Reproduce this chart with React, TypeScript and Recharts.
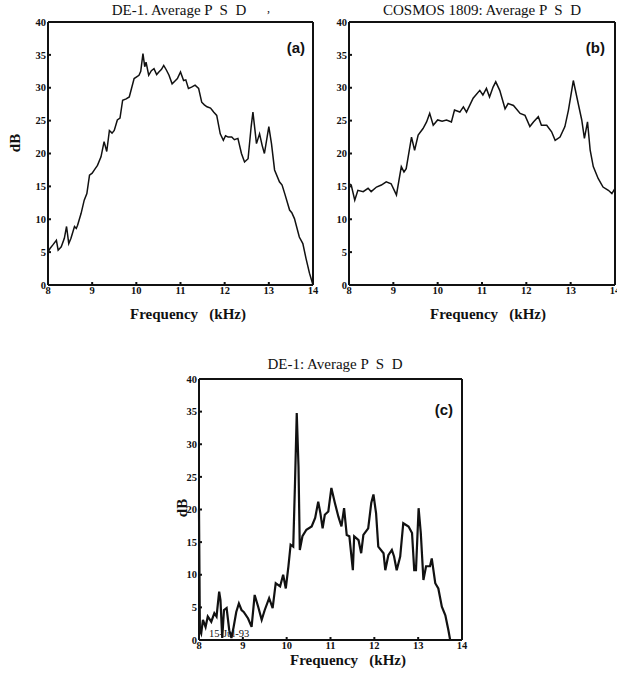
import { Line, LineChart, XAxis, YAxis } from 'recharts';

const FREQ_TICKS = [8, 9, 10, 11, 12, 13, 14];
const DB_TICKS = [0, 5, 10, 15, 20, 25, 30, 35, 40];

// (a) DE-1 average PSD
const freqA = [8.0, 8.05, 8.11, 8.19, 8.23, 8.3, 8.37, 8.42, 8.47, 8.52, 8.6, 8.64, 8.67, 8.75, 8.82, 8.88, 8.94, 9.0, 9.05, 9.12, 9.2, 9.27, 9.33, 9.39, 9.45, 9.5, 9.57, 9.63, 9.69, 9.77, 9.84, 9.95, 10.06, 10.1, 10.15, 10.19, 10.22, 10.28, 10.34, 10.4, 10.46, 10.51, 10.57, 10.62, 10.68, 10.74, 10.81, 10.87, 10.93, 11.0, 11.07, 11.12, 11.18, 11.25, 11.33, 11.41, 11.48, 11.54, 11.6, 11.68, 11.75, 11.82, 11.9, 11.97, 12.02, 12.08, 12.16, 12.22, 12.3, 12.38, 12.45, 12.53, 12.6, 12.64, 12.72, 12.79, 12.85, 12.9, 13.0, 13.06, 13.13, 13.24, 13.3, 13.36, 13.47, 13.52, 13.58, 13.69, 13.77, 13.84, 13.92, 14.0];
const dbA = [5.0, 5.6, 6.1, 6.8, 5.3, 5.8, 7.1, 8.9, 6.3, 7.1, 8.9, 8.6, 9.1, 10.9, 12.9, 13.9, 16.7, 17.0, 17.5, 18.2, 19.5, 21.8, 20.3, 23.5, 23.1, 23.5, 25.1, 25.4, 28.1, 28.3, 28.6, 31.4, 31.9, 32.5, 35.2, 33.2, 33.9, 31.9, 32.6, 32.9, 32.0, 32.4, 32.8, 33.4, 32.7, 31.9, 30.6, 31.0, 31.4, 32.4, 31.1, 31.2, 29.9, 30.1, 30.4, 29.9, 27.8, 27.4, 27.1, 26.9, 26.3, 25.8, 23.0, 22.0, 22.7, 22.5, 22.5, 22.1, 22.3, 20.0, 18.7, 19.2, 24.1, 26.3, 21.5, 23.0, 21.2, 20.0, 24.1, 21.5, 17.5, 15.7, 15.2, 13.9, 11.4, 11.0, 10.1, 7.3, 6.3, 4.1, 1.8, 0];

// (b) COSMOS 1809 average PSD
const freqB = [8.0, 8.05, 8.13, 8.2, 8.32, 8.43, 8.5, 8.62, 8.73, 8.84, 8.95, 9.07, 9.18, 9.24, 9.29, 9.41, 9.48, 9.56, 9.67, 9.75, 9.82, 9.9, 10.0, 10.1, 10.2, 10.31, 10.38, 10.5, 10.58, 10.65, 10.8, 10.95, 11.02, 11.1, 11.17, 11.25, 11.31, 11.4, 11.52, 11.59, 11.71, 11.86, 11.97, 12.08, 12.16, 12.27, 12.34, 12.46, 12.57, 12.65, 12.76, 12.87, 12.95, 13.06, 13.17, 13.25, 13.31, 13.38, 13.44, 13.51, 13.62, 13.73, 13.85, 13.93, 14.0];
const dbB = [15.4, 15.2, 12.9, 14.4, 14.2, 14.7, 14.2, 14.9, 15.2, 15.7, 15.4, 13.7, 18.0, 17.2, 17.7, 22.5, 20.5, 22.8, 23.8, 24.8, 26.1, 24.3, 25.1, 24.9, 25.1, 24.8, 26.6, 26.3, 27.1, 26.3, 28.4, 29.6, 28.9, 29.9, 28.6, 30.1, 30.9, 29.6, 26.8, 27.6, 27.3, 26.1, 25.8, 24.1, 24.8, 25.6, 24.3, 24.3, 23.3, 22.0, 22.5, 24.1, 26.6, 31.1, 27.6, 25.1, 22.3, 24.8, 20.5, 18.0, 16.2, 14.9, 14.4, 13.9, 14.7];

// (c) DE-1 average PSD, 15-Jul-93
const freqC = [8.0, 8.02, 8.05, 8.09, 8.15, 8.2, 8.28, 8.35, 8.4, 8.46, 8.49, 8.53, 8.57, 8.63, 8.69, 8.74, 8.79, 8.85, 8.91, 8.97, 9.02, 9.12, 9.2, 9.27, 9.35, 9.43, 9.5, 9.6, 9.68, 9.75, 9.85, 9.92, 9.98, 10.04, 10.09, 10.15, 10.19, 10.23, 10.27, 10.3, 10.36, 10.45, 10.57, 10.65, 10.72, 10.77, 10.82, 10.87, 10.95, 11.02, 11.1, 11.18, 11.25, 11.31, 11.37, 11.43, 11.51, 11.54, 11.64, 11.7, 11.75, 11.86, 11.93, 11.98, 12.04, 12.09, 12.21, 12.25, 12.32, 12.4, 12.45, 12.51, 12.59, 12.66, 12.78, 12.86, 12.91, 12.95, 13.01, 13.06, 13.12, 13.18, 13.27, 13.31, 13.39, 13.46, 13.54, 13.62, 13.69, 13.73];
const dbC = [20.0, 1.5, 1.0, 3.1, 2.0, 3.6, 2.8, 4.1, 3.6, 7.4, 6.1, 0.3, 4.6, 4.9, 1.5, 0.3, 2.0, 4.3, 5.6, 4.6, 4.3, 3.3, 2.0, 6.9, 5.1, 3.1, 4.6, 6.4, 4.9, 8.7, 8.2, 10.0, 7.9, 11.3, 14.6, 14.3, 24.0, 34.8, 26.6, 13.8, 15.9, 16.9, 17.4, 18.7, 21.2, 19.4, 17.1, 19.2, 19.7, 23.3, 21.0, 18.9, 17.4, 20.2, 16.1, 15.9, 10.7, 15.9, 15.3, 13.3, 16.1, 17.1, 21.0, 22.3, 19.4, 14.3, 13.3, 10.7, 13.0, 13.8, 12.8, 10.7, 12.8, 17.9, 17.4, 16.4, 10.7, 10.7, 20.2, 16.4, 9.2, 11.3, 11.3, 12.5, 8.7, 7.9, 5.1, 3.8, 1.5, 0];

const toRows = (f: number[], d: number[]) => f.map((x, i) => ({ f: x, db: d[i] }));

const INK = '#111';
const tickFont = { fill: INK, fontSize: 10.5, fontFamily: 'Liberation Serif', fontWeight: 'bold' };

type PanelProps = {
  left: number;
  top: number;
  width: number;
  height: number;
  margin: { top: number; right: number; bottom: number; left: number };
  rows: { f: number; db: number }[];
  lineWidth: number;
};

function Panel({ left, top, width, height, margin, rows, lineWidth }: PanelProps) {
  return (
    <div style={{ position: 'absolute', left, top }}>
      <LineChart width={width} height={height} data={rows} margin={margin}>
        <XAxis
          xAxisId="b"
          dataKey="f"
          type="number"
          domain={[8, 14]}
          ticks={FREQ_TICKS}
          interval={0}
          height={20}
          tick={tickFont}
          tickSize={-3}
          tickMargin={5}
          stroke={INK}
          strokeWidth={2}
        />
        <XAxis
          xAxisId="t"
          orientation="top"
          type="number"
          domain={[8, 14]}
          ticks={FREQ_TICKS}
          mirror
          tick={false}
          tickSize={3}
          stroke={INK}
          strokeWidth={2}
        />
        <YAxis
          yAxisId="l"
          type="number"
          domain={[0, 40]}
          ticks={DB_TICKS}
          interval={0}
          width={30}
          tick={tickFont}
          tickSize={-3}
          tickMargin={5}
          stroke={INK}
          strokeWidth={2}
        />
        <YAxis
          yAxisId="r"
          orientation="right"
          type="number"
          domain={[0, 40]}
          ticks={DB_TICKS}
          mirror
          tick={false}
          tickSize={3}
          stroke={INK}
          strokeWidth={2}
        />
        <Line
          xAxisId="b"
          yAxisId="l"
          dataKey="db"
          type="linear"
          stroke={INK}
          strokeWidth={lineWidth}
          dot={false}
          isAnimationActive={false}
        />
      </LineChart>
    </div>
  );
}

const serif = 'Liberation Serif';

export default function App() {
  return (
    <div style={{ position: 'absolute', left: 0, top: 0, width: 617, height: 681, background: '#fff' }}>
      <Panel left={0} top={0} width={320} height={310} margin={{ top: 22, right: 7, bottom: 5, left: 18 }} rows={toRows(freqA, dbA)} lineWidth={1.5} />
      <Panel left={319} top={0} width={298} height={310} margin={{ top: 22, right: 2, bottom: 5, left: 0 }} rows={toRows(freqB, dbB)} lineWidth={1.5} />
      <Panel left={169} top={357} width={300} height={310} margin={{ top: 22, right: 7, bottom: 7, left: 0 }} rows={toRows(freqC, dbC)} lineWidth={2.2} />
      <svg width={617} height={681} style={{ position: 'absolute', left: 0, top: 0, pointerEvents: 'none' }}>
        <g fill={INK} fontFamily={serif}>
          <text x={179} y={15} fontSize={15} textAnchor="middle" style={{ whiteSpace: 'pre' }}>DE-1. Average P  S  D</text>
          <text x={267} y={12} fontSize={12}>,</text>
          <text x={482} y={15} fontSize={15} textAnchor="middle" style={{ whiteSpace: 'pre' }}>COSMOS 1809: Average P  S  D</text>
          <text x={335} y={369} fontSize={15} textAnchor="middle" style={{ whiteSpace: 'pre' }}>DE-1: Average P  S  D</text>
          <text x={188} y={319} fontSize={15} fontWeight="bold" textAnchor="middle" style={{ whiteSpace: 'pre' }}>Frequency   (kHz)</text>
          <text x={488} y={319} fontSize={15} fontWeight="bold" textAnchor="middle" style={{ whiteSpace: 'pre' }}>Frequency   (kHz)</text>
          <text x={348} y={665} fontSize={15} fontWeight="bold" textAnchor="middle" style={{ whiteSpace: 'pre' }}>Frequency   (kHz)</text>
          <text transform="translate(20,143) rotate(-90)" fontSize={15} fontWeight="bold" textAnchor="middle">dB</text>
          <text transform="translate(187,508) rotate(-90)" fontSize={15} fontWeight="bold" textAnchor="middle">dB</text>
          <text x={209} y={637} fontSize={10.5}>15-Jul-93</text>
        </g>
        <g fill={INK} fontFamily="Liberation Sans" fontWeight="bold" fontSize={15}>
          <text x={305} y={53} textAnchor="end">(a)</text>
          <text x={605} y={53} textAnchor="end">(b)</text>
          <text x={453} y={415} textAnchor="end">(c)</text>
        </g>
      </svg>
    </div>
  );
}
